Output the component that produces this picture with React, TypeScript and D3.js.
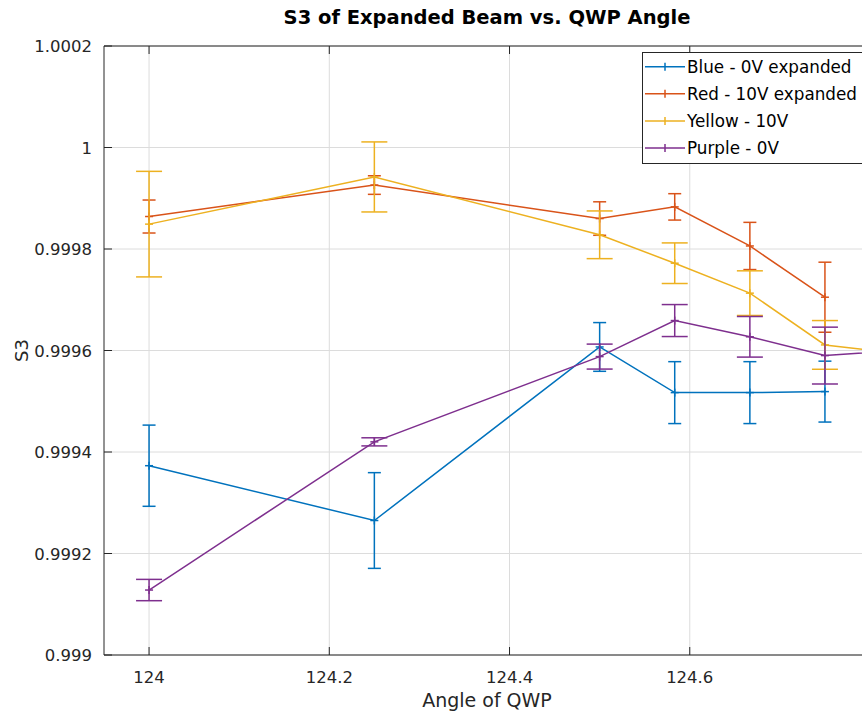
import React from "react";
import * as d3 from "d3";

const angles = [124, 124.25, 124.5, 124.5833, 124.6667, 124.75, 124.8333];

const blueS3 = [0.999373, 0.999265, 0.999607, 0.999517, 0.999517, 0.999519];
const blueErr = [0.00008, 0.0000943, 0.000048, 0.000061, 0.000061, 0.00006];

const redS3 = [0.999864, 0.999926, 0.99986, 0.999883, 0.999806, 0.999705];
const redErr = [0.0000325, 0.0000183, 0.000033, 0.000026, 0.0000465, 0.000069];

const yellowS3 = [0.999849, 0.999942, 0.999828, 0.999772, 0.999713, 0.999611, 0.999594];
const yellowErr = [0.000104, 0.000069, 0.000047, 0.00004, 0.000044, 0.000048, 0.00004];

const purpleS3 = [0.999128, 0.99942, 0.999588, 0.999659, 0.999627, 0.99959, 0.9996];
const purpleErr = [0.000021, 0.000008, 0.0000246, 0.0000315, 0.00004, 0.000056, 0.00003];

const seriesNames = ["Blue - 0V expanded", "Red - 10V expanded", "Yellow - 10V", "Purple - 0V"];
const seriesColors = ["#0072BD", "#D95319", "#EDB120", "#7E2F8E"];
const seriesCaps = [13, 13, 26, 26];

const xTicks = [124, 124.2, 124.4, 124.6];
const xTickLabels = ["124", "124.2", "124.4", "124.6"];
const yTicks = [0.999, 0.9992, 0.9994, 0.9996, 0.9998, 1, 1.0002];
const yTickLabels = ["0.999", "0.9992", "0.9994", "0.9996", "0.9998", "1", "1.0002"];

const W = 862;
const H = 717;
const L = 104;
const R = 870;
const T = 46;
const B = 655;

export default function App() {
  const x = d3.scaleLinear().domain([123.95, 124.8]).range([L, R]);
  const y = d3.scaleLinear().domain([0.999, 1.0002]).range([B, T]);

  const series = [
    { vals: blueS3, errs: blueErr },
    { vals: redS3, errs: redErr },
    { vals: yellowS3, errs: yellowErr },
    { vals: purpleS3, errs: purpleErr },
  ].map((s, i) => ({
    ...s,
    name: seriesNames[i],
    color: seriesColors[i],
    cap: seriesCaps[i],
    pts: s.vals.map((v, j) => ({ a: angles[j], v, e: s.errs[j] })),
  }));

  const line = d3
    .line<{ a: number; v: number }>()
    .x((d) => x(d.a))
    .y((d) => y(d.v));

  const font = "'DejaVu Sans', sans-serif";
  const axisColor = "#262626";
  const tickLen = 8;
  const ms = 4;

  const legendX = 642.5;
  const legendY = 52.5;
  const rowH = 27.1;
  const firstRow = 66.7;

  return (
    <svg
      width={W}
      height={H}
      style={{ position: "absolute", left: 0, top: 0, background: "#fff" }}
      fontFamily={font}
    >
      <defs>
        <clipPath id="plotClip">
          <rect x={L} y={T} width={R - L} height={B - T} />
        </clipPath>
      </defs>
      <rect x={0} y={0} width={W} height={H} fill="#fff" />
      <rect x={L} y={T} width={R - L} height={B - T} fill="#fff" />

      {/* grid */}
      <g stroke="#dcdcdc" strokeWidth={1}>
        {xTicks.map((t) => (
          <line key={"gx" + t} x1={x(t)} x2={x(t)} y1={T} y2={B} />
        ))}
        {yTicks.map((t) => (
          <line key={"gy" + t} x1={L} x2={R} y1={y(t)} y2={y(t)} />
        ))}
      </g>

      {/* data */}
      <g clipPath="url(#plotClip)">
        {series.map((s) => (
          <g key={s.name} stroke={s.color} fill="none" strokeWidth={1.5}>
            <path d={line(s.pts) || ""} />
            {s.pts.map((p, j) => {
              const cx = x(p.a);
              const yt = y(p.v + p.e);
              const yb = y(p.v - p.e);
              const cy = y(p.v);
              return (
                <g key={j}>
                  <line x1={cx} x2={cx} y1={yt} y2={yb} />
                  <line x1={cx - s.cap / 2} x2={cx + s.cap / 2} y1={yt} y2={yt} />
                  <line x1={cx - s.cap / 2} x2={cx + s.cap / 2} y1={yb} y2={yb} />
                  <line x1={cx - ms} x2={cx + ms} y1={cy} y2={cy} />
                  <line x1={cx} x2={cx} y1={cy - ms} y2={cy + ms} />
                </g>
              );
            })}
          </g>
        ))}
      </g>

      {/* axes box */}
      <g stroke={axisColor} strokeWidth={1} fill="none">
        <line x1={L} x2={R} y1={B} y2={B} />
        <line x1={L} x2={R} y1={T} y2={T} />
        <line x1={L} x2={L} y1={T} y2={B} />
        <line x1={R} x2={R} y1={T} y2={B} />
        {xTicks.map((t) => (
          <g key={"tx" + t}>
            <line x1={x(t)} x2={x(t)} y1={B} y2={B - tickLen} />
            <line x1={x(t)} x2={x(t)} y1={T} y2={T + tickLen} />
          </g>
        ))}
        {yTicks.map((t) => (
          <g key={"ty" + t}>
            <line x1={L} x2={L + tickLen} y1={y(t)} y2={y(t)} />
            <line x1={R} x2={R - tickLen} y1={y(t)} y2={y(t)} />
          </g>
        ))}
      </g>

      {/* tick labels */}
      <g fill={axisColor} fontSize={16.5}>
        {xTicks.map((t, i) => (
          <text key={"lx" + t} x={x(t)} y={683} textAnchor="middle">
            {xTickLabels[i]}
          </text>
        ))}
        {yTicks.map((t, i) => (
          <text key={"ly" + t} x={92} y={y(t) + 6} textAnchor="end">
            {yTickLabels[i]}
          </text>
        ))}
      </g>

      {/* axis labels */}
      <text x={(L + R) / 2} y={707} textAnchor="middle" fontSize={19} fill={axisColor}>
        Angle of QWP
      </text>
      <text
        transform={`translate(28, ${(T + B) / 2}) rotate(-90)`}
        textAnchor="middle"
        fontSize={18}
        fill={axisColor}
      >
        S3
      </text>

      {/* title */}
      <text
        x={(L + R) / 2}
        y={24}
        textAnchor="middle"
        fontSize={19.5}
        fontWeight="bold"
        fill="#000"
      >
        S3 of Expanded Beam vs. QWP Angle
      </text>

      {/* legend */}
      <g>
        <rect
          x={legendX}
          y={legendY}
          width={226}
          height={111}
          fill="#fff"
          stroke={axisColor}
          strokeWidth={1}
        />
        {series.map((s, i) => {
          const ry = firstRow + i * rowH;
          return (
            <g key={"lg" + i}>
              <g stroke={s.color} strokeWidth={1.5}>
                <line x1={645} x2={685} y1={ry} y2={ry} />
                <line x1={665} x2={665} y1={ry - ms} y2={ry + ms} />
              </g>
              <text x={687} y={ry + 6} fontSize={16.8} fill="#000">
                {s.name}
              </text>
            </g>
          );
        })}
      </g>
    </svg>
  );
}
